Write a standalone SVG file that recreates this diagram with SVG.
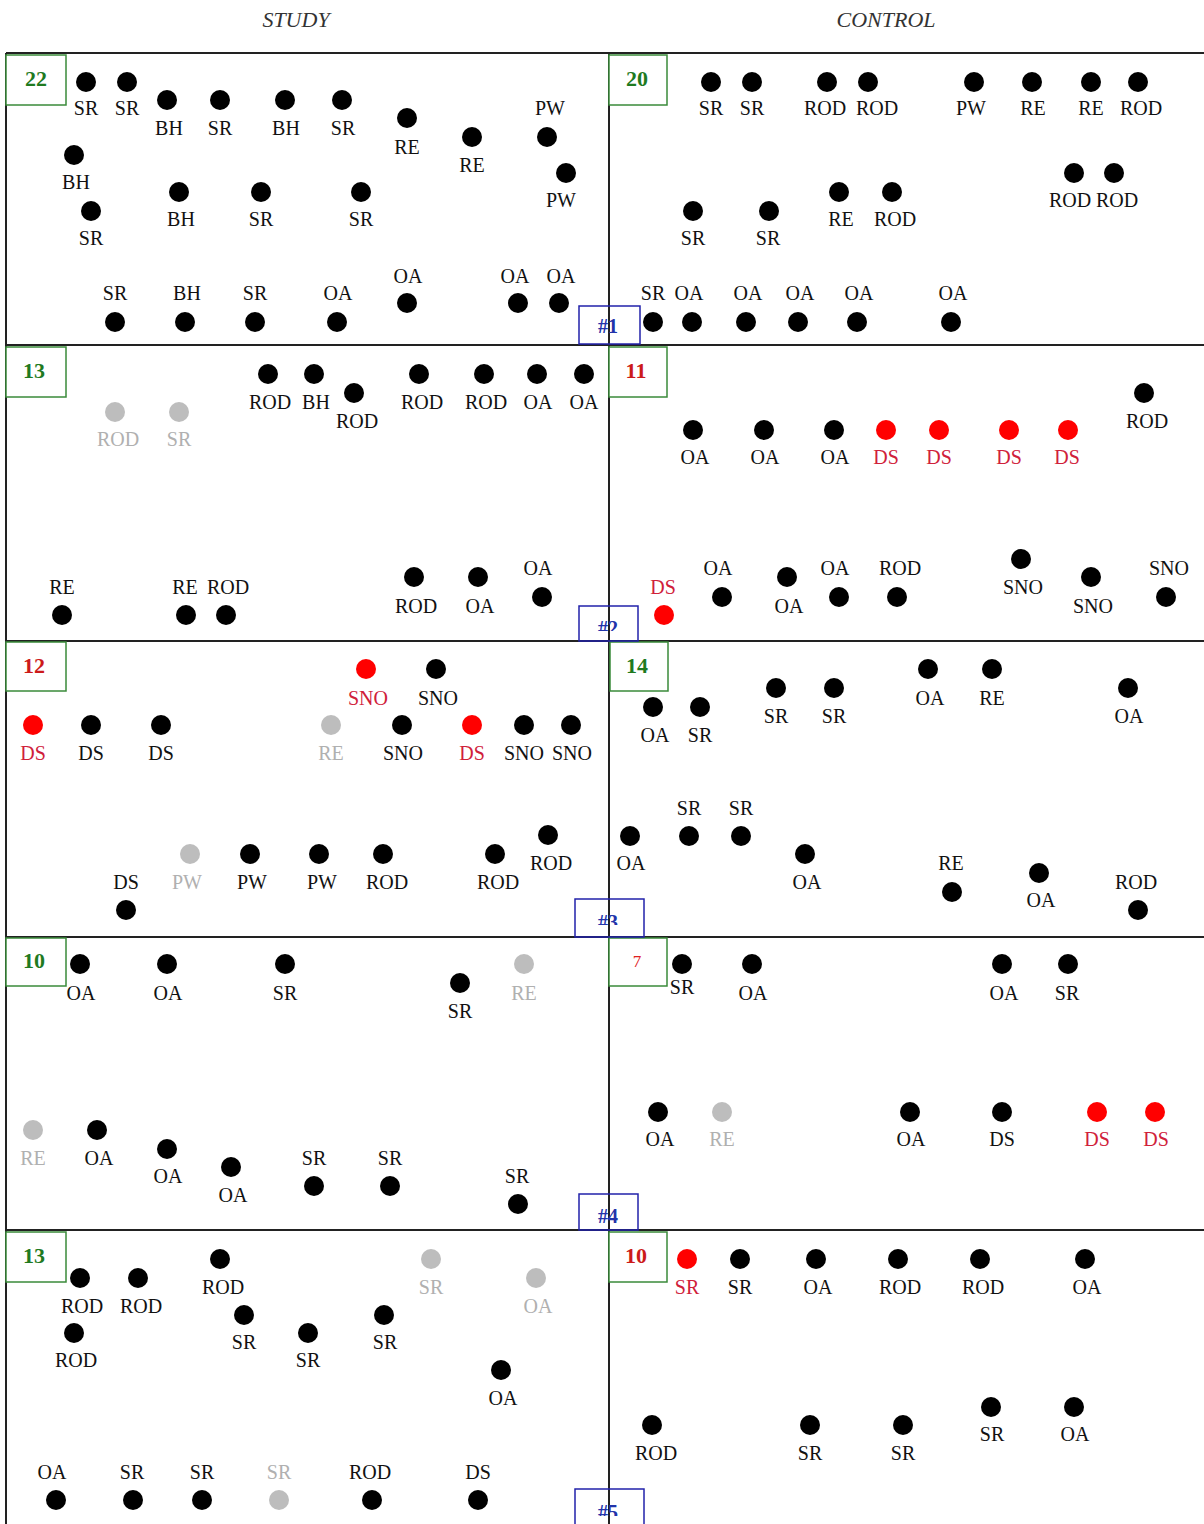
<svg xmlns="http://www.w3.org/2000/svg" width="1204" height="1524" viewBox="0 0 1204 1524">
<style>
.k{fill:#000}.r{fill:#ff0000}.g{fill:#bdbdbd}
text{font-family:"Liberation Serif","Times New Roman",serif}
.l{font-size:20px;text-anchor:middle;fill:#111}
.lr{font-size:20px;text-anchor:middle;fill:#d0203a}
.lg{font-size:20px;text-anchor:middle;fill:#b0b0b0}
.hd{font-size:22px;font-style:italic;text-anchor:middle;fill:#333}
.grid{stroke:#222;stroke-width:2;fill:none}
.cb{fill:#fff;stroke:#3a8a3a;stroke-width:1.5}
.ng{font-size:22px;font-weight:bold;text-anchor:middle;fill:#1f7a1f}
.nr{font-size:22px;font-weight:bold;text-anchor:middle;fill:#cc1a1a}
.tb{fill:none;stroke:#2222aa;stroke-width:1.5}
.tn{font-size:20px;font-weight:bold;text-anchor:middle;fill:#2233aa}
</style>
<defs>
<clipPath id="c2"><rect x="579" y="606" width="59" height="25"/></clipPath>
<clipPath id="c3"><rect x="575" y="899" width="69" height="26"/></clipPath>
<clipPath id="c5"><rect x="575" y="1489" width="69" height="27"/></clipPath>
</defs>
<rect width="1204" height="1524" fill="#fff"/>
<text class="hd" x="296" y="27">STUDY</text>
<text class="hd" x="886" y="27">CONTROL</text>
<g id="grid" class="grid">
<path d="M6 53H1204M6 345H1204M6 641H1204M6 937H1204M6 1230H1204M6 53V1524M609 53V1524"/>
</g>
<g id="connectors"></g>
<g id="counts">
<g id="count-s1"><rect class="cb" x="6" y="55" width="60" height="50"/><text class="ng" x="36" y="86">22</text></g>
<g id="count-c1"><rect class="cb" x="609" y="55" width="58" height="50"/><text class="ng" x="637" y="86">20</text></g>
<g id="count-s2"><rect class="cb" x="6" y="347" width="60" height="50"/><text class="ng" x="34" y="378">13</text></g>
<g id="count-c2"><rect class="cb" x="609" y="347" width="58" height="50"/><text class="nr" x="636" y="378">11</text></g>
<g id="count-s3"><rect class="cb" x="6" y="642" width="60" height="49"/><text class="nr" x="34" y="673">12</text></g>
<g id="count-c3"><rect class="cb" x="610" y="642" width="58" height="49"/><text class="ng" x="637" y="673">14</text></g>
<g id="count-s4"><rect class="cb" x="6" y="938" width="60" height="48"/><text class="ng" x="34" y="968">10</text></g>
<g id="count-c4"><rect class="cb" x="609" y="938" width="58" height="48"/><text x="637" y="967" style="font-size:17px;text-anchor:middle;fill:#e02020">7</text></g>
<g id="count-s5"><rect class="cb" x="6" y="1232" width="60" height="50"/><text class="ng" x="34" y="1263">13</text></g>
<g id="count-c5"><rect class="cb" x="609" y="1232" width="58" height="50"/><text class="nr" x="636" y="1263">10</text></g>
</g>
<g id="tags">
<g id="tag1"><rect class="tb" x="579" y="306" width="61" height="38"/><text class="tn" x="608" y="333">#1</text></g>
<g id="tag2"><rect class="tb" x="579" y="606" width="59" height="35"/><text class="tn" x="608" y="635" clip-path="url(#c2)">#2</text></g>
<g id="tag3"><rect class="tb" x="575" y="899" width="69" height="38"/><text class="tn" x="608" y="929" clip-path="url(#c3)">#3</text></g>
<g id="tag4"><rect class="tb" x="579" y="1194" width="59" height="36"/><text class="tn" x="608" y="1223">#4</text></g>
<g id="tag5"><rect class="tb" x="575" y="1489" width="69" height="40"/><text class="tn" x="608" y="1519" clip-path="url(#c5)">#5</text></g>
</g>
<!-- Panel 1 study -->
<g id="s1">
<g id="s1-1"><circle class="k" cx="86" cy="82" r="10"/><text class="l" x="86" y="115">SR</text></g>
<g id="s1-2"><circle class="k" cx="127" cy="82" r="10"/><text class="l" x="127" y="115">SR</text></g>
<g id="s1-3"><circle class="k" cx="167" cy="100" r="10"/><text class="l" x="169" y="135">BH</text></g>
<g id="s1-4"><circle class="k" cx="220" cy="100" r="10"/><text class="l" x="220" y="135">SR</text></g>
<g id="s1-5"><circle class="k" cx="285" cy="100" r="10"/><text class="l" x="286" y="135">BH</text></g>
<g id="s1-6"><circle class="k" cx="342" cy="100" r="10"/><text class="l" x="343" y="135">SR</text></g>
<g id="s1-7"><circle class="k" cx="407" cy="118" r="10"/><text class="l" x="407" y="154">RE</text></g>
<g id="s1-8"><circle class="k" cx="472" cy="137" r="10"/><text class="l" x="472" y="172">RE</text></g>
<g id="s1-9"><circle class="k" cx="547" cy="137" r="10"/><text class="l" x="550" y="115">PW</text></g>
<g id="s1-10"><circle class="k" cx="566" cy="173" r="10"/><text class="l" x="561" y="207">PW</text></g>
<g id="s1-11"><circle class="k" cx="74" cy="155" r="10"/><text class="l" x="76" y="189">BH</text></g>
<g id="s1-12"><circle class="k" cx="91" cy="211" r="10"/><text class="l" x="91" y="245">SR</text></g>
<g id="s1-13"><circle class="k" cx="179" cy="192" r="10"/><text class="l" x="181" y="226">BH</text></g>
<g id="s1-14"><circle class="k" cx="261" cy="192" r="10"/><text class="l" x="261" y="226">SR</text></g>
<g id="s1-15"><circle class="k" cx="361" cy="192" r="10"/><text class="l" x="361" y="226">SR</text></g>
<g id="s1-16"><circle class="k" cx="115" cy="322" r="10"/><text class="l" x="115" y="300">SR</text></g>
<g id="s1-17"><circle class="k" cx="185" cy="322" r="10"/><text class="l" x="187" y="300">BH</text></g>
<g id="s1-18"><circle class="k" cx="255" cy="322" r="10"/><text class="l" x="255" y="300">SR</text></g>
<g id="s1-19"><circle class="k" cx="337" cy="322" r="10"/><text class="l" x="338" y="300">OA</text></g>
<g id="s1-20"><circle class="k" cx="407" cy="303" r="10"/><text class="l" x="408" y="283">OA</text></g>
<g id="s1-21"><circle class="k" cx="518" cy="303" r="10"/><text class="l" x="515" y="283">OA</text></g>
<g id="s1-22"><circle class="k" cx="559" cy="303" r="10"/><text class="l" x="561" y="283">OA</text></g>
</g>
<!-- Panel 1 control -->
<g id="c1">
<g id="c1-1"><circle class="k" cx="711" cy="82" r="10"/><text class="l" x="711" y="115">SR</text></g>
<g id="c1-2"><circle class="k" cx="752" cy="82" r="10"/><text class="l" x="752" y="115">SR</text></g>
<g id="c1-3"><circle class="k" cx="827" cy="82" r="10"/><text class="l" x="825" y="115">ROD</text></g>
<g id="c1-4"><circle class="k" cx="868" cy="82" r="10"/><text class="l" x="877" y="115">ROD</text></g>
<g id="c1-5"><circle class="k" cx="974" cy="82" r="10"/><text class="l" x="971" y="115">PW</text></g>
<g id="c1-6"><circle class="k" cx="1032" cy="82" r="10"/><text class="l" x="1033" y="115">RE</text></g>
<g id="c1-7"><circle class="k" cx="1091" cy="82" r="10"/><text class="l" x="1091" y="115">RE</text></g>
<g id="c1-8"><circle class="k" cx="1138" cy="82" r="10"/><text class="l" x="1141" y="115">ROD</text></g>
<g id="c1-9"><circle class="k" cx="1074" cy="173" r="10"/><text class="l" x="1070" y="207">ROD</text></g>
<g id="c1-10"><circle class="k" cx="1114" cy="173" r="10"/><text class="l" x="1117" y="207">ROD</text></g>
<g id="c1-11"><circle class="k" cx="693" cy="211" r="10"/><text class="l" x="693" y="245">SR</text></g>
<g id="c1-12"><circle class="k" cx="769" cy="211" r="10"/><text class="l" x="768" y="245">SR</text></g>
<g id="c1-13"><circle class="k" cx="839" cy="192" r="10"/><text class="l" x="841" y="226">RE</text></g>
<g id="c1-14"><circle class="k" cx="892" cy="192" r="10"/><text class="l" x="895" y="226">ROD</text></g>
<g id="c1-15"><circle class="k" cx="653" cy="322" r="10"/><text class="l" x="653" y="300">SR</text></g>
<g id="c1-16"><circle class="k" cx="692" cy="322" r="10"/><text class="l" x="689" y="300">OA</text></g>
<g id="c1-17"><circle class="k" cx="746" cy="322" r="10"/><text class="l" x="748" y="300">OA</text></g>
<g id="c1-18"><circle class="k" cx="798" cy="322" r="10"/><text class="l" x="800" y="300">OA</text></g>
<g id="c1-19"><circle class="k" cx="857" cy="322" r="10"/><text class="l" x="859" y="300">OA</text></g>
<g id="c1-20"><circle class="k" cx="951" cy="322" r="10"/><text class="l" x="953" y="300">OA</text></g>
</g>
<!-- Panel 2 study -->
<g id="s2">
<g id="s2-1"><circle class="g" cx="115" cy="412" r="10"/><text class="lg" x="118" y="446">ROD</text></g>
<g id="s2-2"><circle class="g" cx="179" cy="412" r="10"/><text class="lg" x="179" y="446">SR</text></g>
<g id="s2-3"><circle class="k" cx="268" cy="374" r="10"/><text class="l" x="270" y="409">ROD</text></g>
<g id="s2-4"><circle class="k" cx="314" cy="374" r="10"/><text class="l" x="316" y="409">BH</text></g>
<g id="s2-5"><circle class="k" cx="354" cy="393" r="10"/><text class="l" x="357" y="428">ROD</text></g>
<g id="s2-6"><circle class="k" cx="419" cy="374" r="10"/><text class="l" x="422" y="409">ROD</text></g>
<g id="s2-7"><circle class="k" cx="484" cy="374" r="10"/><text class="l" x="486" y="409">ROD</text></g>
<g id="s2-8"><circle class="k" cx="537" cy="374" r="10"/><text class="l" x="538" y="409">OA</text></g>
<g id="s2-9"><circle class="k" cx="584" cy="374" r="10"/><text class="l" x="584" y="409">OA</text></g>
<g id="s2-10"><circle class="k" cx="62" cy="615" r="10"/><text class="l" x="62" y="594">RE</text></g>
<g id="s2-11"><circle class="k" cx="186" cy="615" r="10"/><text class="l" x="185" y="594">RE</text></g>
<g id="s2-12"><circle class="k" cx="226" cy="615" r="10"/><text class="l" x="228" y="594">ROD</text></g>
<g id="s2-13"><circle class="k" cx="414" cy="577" r="10"/><text class="l" x="416" y="613">ROD</text></g>
<g id="s2-14"><circle class="k" cx="478" cy="577" r="10"/><text class="l" x="480" y="613">OA</text></g>
<g id="s2-15"><circle class="k" cx="542" cy="597" r="10"/><text class="l" x="538" y="575">OA</text></g>
</g>
<!-- Panel 2 control -->
<g id="c2">
<g id="c2-1"><circle class="k" cx="1144" cy="393" r="10"/><text class="l" x="1147" y="428">ROD</text></g>
<g id="c2-2"><circle class="k" cx="693" cy="430" r="10"/><text class="l" x="695" y="464">OA</text></g>
<g id="c2-3"><circle class="k" cx="764" cy="430" r="10"/><text class="l" x="765" y="464">OA</text></g>
<g id="c2-4"><circle class="k" cx="834" cy="430" r="10"/><text class="l" x="835" y="464">OA</text></g>
<g id="c2-5"><circle class="r" cx="886" cy="430" r="10"/><text class="lr" x="886" y="464">DS</text></g>
<g id="c2-6"><circle class="r" cx="939" cy="430" r="10"/><text class="lr" x="939" y="464">DS</text></g>
<g id="c2-7"><circle class="r" cx="1009" cy="430" r="10"/><text class="lr" x="1009" y="464">DS</text></g>
<g id="c2-8"><circle class="r" cx="1068" cy="430" r="10"/><text class="lr" x="1067" y="464">DS</text></g>
<g id="c2-9"><circle class="r" cx="664" cy="615" r="10"/><text class="lr" x="663" y="594">DS</text></g>
<g id="c2-10"><circle class="k" cx="722" cy="597" r="10"/><text class="l" x="718" y="575">OA</text></g>
<g id="c2-11"><circle class="k" cx="787" cy="577" r="10"/><text class="l" x="789" y="613">OA</text></g>
<g id="c2-12"><circle class="k" cx="839" cy="597" r="10"/><text class="l" x="835" y="575">OA</text></g>
<g id="c2-13"><circle class="k" cx="897" cy="597" r="10"/><text class="l" x="900" y="575">ROD</text></g>
<g id="c2-14"><circle class="k" cx="1021" cy="559" r="10"/><text class="l" x="1023" y="594">SNO</text></g>
<g id="c2-15"><circle class="k" cx="1091" cy="577" r="10"/><text class="l" x="1093" y="613">SNO</text></g>
<g id="c2-16"><circle class="k" cx="1166" cy="597" r="10"/><text class="l" x="1169" y="575">SNO</text></g>
</g>
<!-- Panel 3 study -->
<g id="s3">
<g id="s3-1"><circle class="r" cx="366" cy="669" r="10"/><text class="lr" x="368" y="705">SNO</text></g>
<g id="s3-2"><circle class="k" cx="436" cy="669" r="10"/><text class="l" x="438" y="705">SNO</text></g>
<g id="s3-3"><circle class="r" cx="33" cy="725" r="10"/><text class="lr" x="33" y="760">DS</text></g>
<g id="s3-4"><circle class="k" cx="91" cy="725" r="10"/><text class="l" x="91" y="760">DS</text></g>
<g id="s3-5"><circle class="k" cx="161" cy="725" r="10"/><text class="l" x="161" y="760">DS</text></g>
<g id="s3-6"><circle class="g" cx="331" cy="725" r="10"/><text class="lg" x="331" y="760">RE</text></g>
<g id="s3-7"><circle class="k" cx="402" cy="725" r="10"/><text class="l" x="403" y="760">SNO</text></g>
<g id="s3-8"><circle class="r" cx="472" cy="725" r="10"/><text class="lr" x="472" y="760">DS</text></g>
<g id="s3-9"><circle class="k" cx="524" cy="725" r="10"/><text class="l" x="524" y="760">SNO</text></g>
<g id="s3-10"><circle class="k" cx="571" cy="725" r="10"/><text class="l" x="572" y="760">SNO</text></g>
<g id="s3-11"><circle class="k" cx="126" cy="910" r="10"/><text class="l" x="126" y="889">DS</text></g>
<g id="s3-12"><circle class="g" cx="190" cy="854" r="10"/><text class="lg" x="187" y="889">PW</text></g>
<g id="s3-13"><circle class="k" cx="250" cy="854" r="10"/><text class="l" x="252" y="889">PW</text></g>
<g id="s3-14"><circle class="k" cx="319" cy="854" r="10"/><text class="l" x="322" y="889">PW</text></g>
<g id="s3-15"><circle class="k" cx="383" cy="854" r="10"/><text class="l" x="387" y="889">ROD</text></g>
<g id="s3-16"><circle class="k" cx="495" cy="854" r="10"/><text class="l" x="498" y="889">ROD</text></g>
<g id="s3-17"><circle class="k" cx="548" cy="835" r="10"/><text class="l" x="551" y="870">ROD</text></g>
</g>
<!-- Panel 3 control -->
<g id="c3">
<g id="c3-1"><circle class="k" cx="653" cy="707" r="10"/><text class="l" x="655" y="742">OA</text></g>
<g id="c3-2"><circle class="k" cx="700" cy="707" r="10"/><text class="l" x="700" y="742">SR</text></g>
<g id="c3-3"><circle class="k" cx="776" cy="688" r="10"/><text class="l" x="776" y="723">SR</text></g>
<g id="c3-4"><circle class="k" cx="834" cy="688" r="10"/><text class="l" x="834" y="723">SR</text></g>
<g id="c3-5"><circle class="k" cx="928" cy="669" r="10"/><text class="l" x="930" y="705">OA</text></g>
<g id="c3-6"><circle class="k" cx="992" cy="669" r="10"/><text class="l" x="992" y="705">RE</text></g>
<g id="c3-7"><circle class="k" cx="1128" cy="688" r="10"/><text class="l" x="1129" y="723">OA</text></g>
<g id="c3-8"><circle class="k" cx="630" cy="836" r="10"/><text class="l" x="631" y="870">OA</text></g>
<g id="c3-9"><circle class="k" cx="689" cy="836" r="10"/><text class="l" x="689" y="815">SR</text></g>
<g id="c3-10"><circle class="k" cx="741" cy="836" r="10"/><text class="l" x="741" y="815">SR</text></g>
<g id="c3-11"><circle class="k" cx="805" cy="854" r="10"/><text class="l" x="807" y="889">OA</text></g>
<g id="c3-12"><circle class="k" cx="952" cy="892" r="10"/><text class="l" x="951" y="870">RE</text></g>
<g id="c3-13"><circle class="k" cx="1039" cy="873" r="10"/><text class="l" x="1041" y="907">OA</text></g>
<g id="c3-14"><circle class="k" cx="1138" cy="910" r="10"/><text class="l" x="1136" y="889">ROD</text></g>
</g>
<!-- Panel 4 study -->
<g id="s4">
<g id="s4-1"><circle class="k" cx="80" cy="964" r="10"/><text class="l" x="81" y="1000">OA</text></g>
<g id="s4-2"><circle class="k" cx="167" cy="964" r="10"/><text class="l" x="168" y="1000">OA</text></g>
<g id="s4-3"><circle class="k" cx="285" cy="964" r="10"/><text class="l" x="285" y="1000">SR</text></g>
<g id="s4-4"><circle class="k" cx="460" cy="983" r="10"/><text class="l" x="460" y="1018">SR</text></g>
<g id="s4-5"><circle class="g" cx="524" cy="964" r="10"/><text class="lg" x="524" y="1000">RE</text></g>
<g id="s4-6"><circle class="g" cx="33" cy="1130" r="10"/><text class="lg" x="33" y="1165">RE</text></g>
<g id="s4-7"><circle class="k" cx="97" cy="1130" r="10"/><text class="l" x="99" y="1165">OA</text></g>
<g id="s4-8"><circle class="k" cx="167" cy="1149" r="10"/><text class="l" x="168" y="1183">OA</text></g>
<g id="s4-9"><circle class="k" cx="231" cy="1167" r="10"/><text class="l" x="233" y="1202">OA</text></g>
<g id="s4-10"><circle class="k" cx="314" cy="1186" r="10"/><text class="l" x="314" y="1165">SR</text></g>
<g id="s4-11"><circle class="k" cx="390" cy="1186" r="10"/><text class="l" x="390" y="1165">SR</text></g>
<g id="s4-12"><circle class="k" cx="518" cy="1204" r="10"/><text class="l" x="517" y="1183">SR</text></g>
</g>
<!-- Panel 4 control -->
<g id="c4">
<g id="c4-1"><circle class="k" cx="682" cy="964" r="10"/><text class="l" x="682" y="994">SR</text></g>
<g id="c4-2"><circle class="k" cx="752" cy="964" r="10"/><text class="l" x="753" y="1000">OA</text></g>
<g id="c4-3"><circle class="k" cx="1002" cy="964" r="10"/><text class="l" x="1004" y="1000">OA</text></g>
<g id="c4-4"><circle class="k" cx="1068" cy="964" r="10"/><text class="l" x="1067" y="1000">SR</text></g>
<g id="c4-5"><circle class="k" cx="658" cy="1112" r="10"/><text class="l" x="660" y="1146">OA</text></g>
<g id="c4-6"><circle class="g" cx="722" cy="1112" r="10"/><text class="lg" x="722" y="1146">RE</text></g>
<g id="c4-7"><circle class="k" cx="910" cy="1112" r="10"/><text class="l" x="911" y="1146">OA</text></g>
<g id="c4-8"><circle class="k" cx="1002" cy="1112" r="10"/><text class="l" x="1002" y="1146">DS</text></g>
<g id="c4-9"><circle class="r" cx="1097" cy="1112" r="10"/><text class="lr" x="1097" y="1146">DS</text></g>
<g id="c4-10"><circle class="r" cx="1155" cy="1112" r="10"/><text class="lr" x="1156" y="1146">DS</text></g>
</g>
<!-- Panel 5 study -->
<g id="s5">
<g id="s5-1"><circle class="k" cx="80" cy="1278" r="10"/><text class="l" x="82" y="1313">ROD</text></g>
<g id="s5-2"><circle class="k" cx="138" cy="1278" r="10"/><text class="l" x="141" y="1313">ROD</text></g>
<g id="s5-3"><circle class="k" cx="220" cy="1259" r="10"/><text class="l" x="223" y="1294">ROD</text></g>
<g id="s5-4"><circle class="k" cx="74" cy="1333" r="10"/><text class="l" x="76" y="1367">ROD</text></g>
<g id="s5-5"><circle class="k" cx="244" cy="1315" r="10"/><text class="l" x="244" y="1349">SR</text></g>
<g id="s5-6"><circle class="k" cx="308" cy="1333" r="10"/><text class="l" x="308" y="1367">SR</text></g>
<g id="s5-7"><circle class="k" cx="384" cy="1315" r="10"/><text class="l" x="385" y="1349">SR</text></g>
<g id="s5-8"><circle class="g" cx="431" cy="1259" r="10"/><text class="lg" x="431" y="1294">SR</text></g>
<g id="s5-9"><circle class="g" cx="536" cy="1278" r="10"/><text class="lg" x="538" y="1313">OA</text></g>
<g id="s5-10"><circle class="k" cx="501" cy="1370" r="10"/><text class="l" x="503" y="1405">OA</text></g>
<g id="s5-11"><circle class="k" cx="56" cy="1500" r="10"/><text class="l" x="52" y="1479">OA</text></g>
<g id="s5-12"><circle class="k" cx="133" cy="1500" r="10"/><text class="l" x="132" y="1479">SR</text></g>
<g id="s5-13"><circle class="k" cx="202" cy="1500" r="10"/><text class="l" x="202" y="1479">SR</text></g>
<g id="s5-14"><circle class="g" cx="279" cy="1500" r="10"/><text class="lg" x="279" y="1479">SR</text></g>
<g id="s5-15"><circle class="k" cx="372" cy="1500" r="10"/><text class="l" x="370" y="1479">ROD</text></g>
<g id="s5-16"><circle class="k" cx="478" cy="1500" r="10"/><text class="l" x="478" y="1479">DS</text></g>
</g>
<!-- Panel 5 control -->
<g id="c5">
<g id="c5-1"><circle class="r" cx="687" cy="1259" r="10"/><text class="lr" x="687" y="1294">SR</text></g>
<g id="c5-2"><circle class="k" cx="740" cy="1259" r="10"/><text class="l" x="740" y="1294">SR</text></g>
<g id="c5-3"><circle class="k" cx="816" cy="1259" r="10"/><text class="l" x="818" y="1294">OA</text></g>
<g id="c5-4"><circle class="k" cx="898" cy="1259" r="10"/><text class="l" x="900" y="1294">ROD</text></g>
<g id="c5-5"><circle class="k" cx="980" cy="1259" r="10"/><text class="l" x="983" y="1294">ROD</text></g>
<g id="c5-6"><circle class="k" cx="1085" cy="1259" r="10"/><text class="l" x="1087" y="1294">OA</text></g>
<g id="c5-7"><circle class="k" cx="652" cy="1425" r="10"/><text class="l" x="656" y="1460">ROD</text></g>
<g id="c5-8"><circle class="k" cx="810" cy="1425" r="10"/><text class="l" x="810" y="1460">SR</text></g>
<g id="c5-9"><circle class="k" cx="903" cy="1425" r="10"/><text class="l" x="903" y="1460">SR</text></g>
<g id="c5-10"><circle class="k" cx="991" cy="1407" r="10"/><text class="l" x="992" y="1441">SR</text></g>
<g id="c5-11"><circle class="k" cx="1074" cy="1407" r="10"/><text class="l" x="1075" y="1441">OA</text></g>
</g>
</svg>
